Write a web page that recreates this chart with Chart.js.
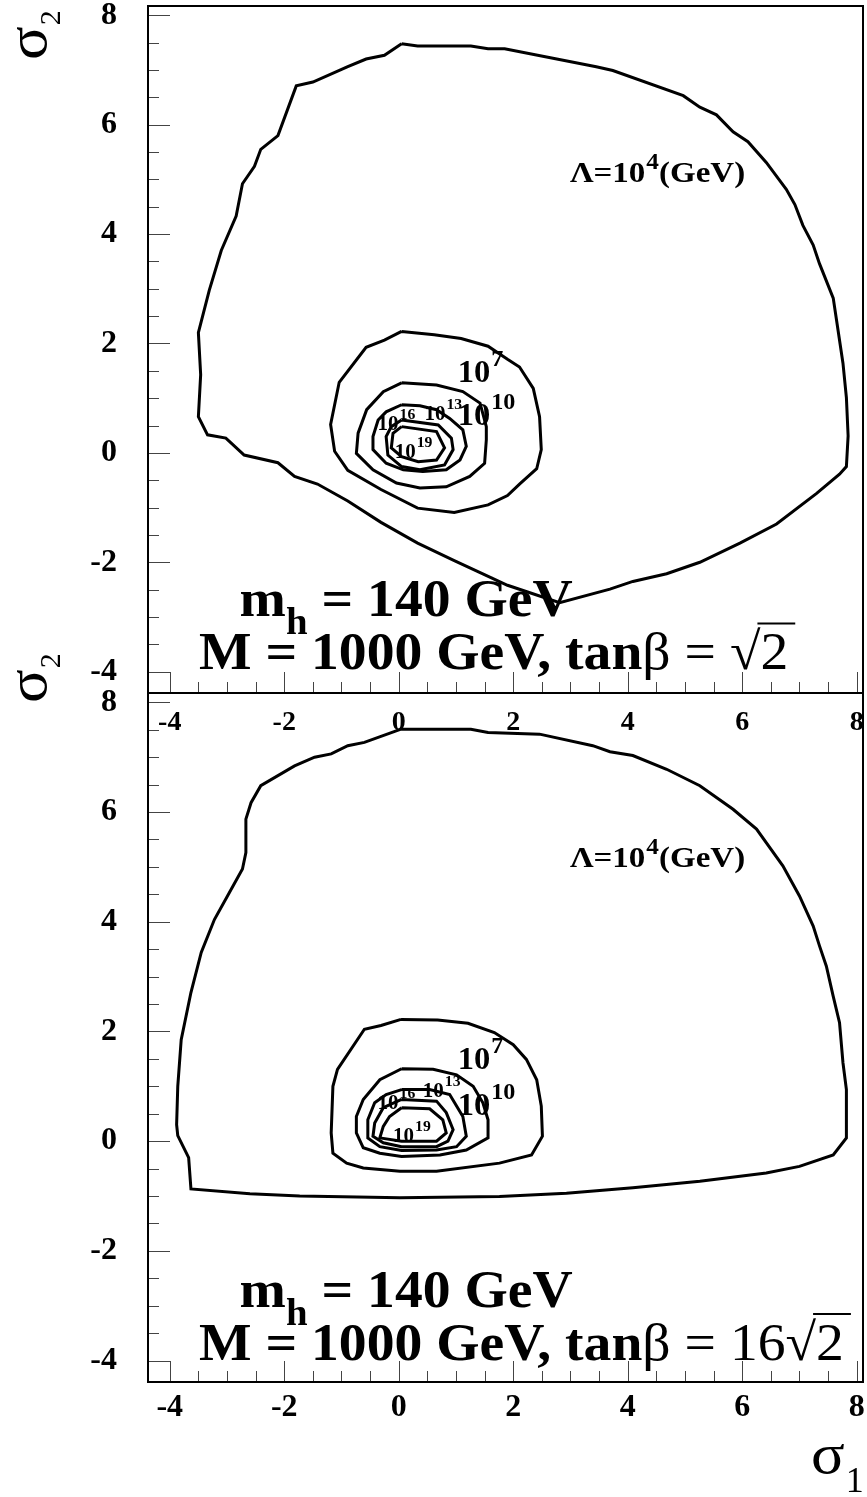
<!DOCTYPE html>
<html>
<head>
<meta charset="utf-8">
<script src="https://cdn.jsdelivr.net/npm/chart.js@4.4.1/dist/chart.umd.min.js"></script>
<style>
  html, body { margin: 0; padding: 0; background: #fff; }
  #wrap { position: relative; width: 867px; height: 1497px; }
  #wrap canvas { position: absolute; left: 0; top: 0; }
</style>
</head>
<body>
<div id="wrap">
  <canvas id="topPanel" width="867" height="1497"></canvas>
  <canvas id="bottomPanel" width="867" height="1497"></canvas>
</div>
<script>
// axis ranges and tick labels (same for both panels)
const X_MIN = -4.38, X_MAX = 8.11;
const Y_MIN = -4.39, Y_MAX = 8.17;
const xTicks = [-4, -2, 0, 2, 4, 6, 8];
const yTicks = [-4, -2, 0, 2, 4, 6, 8];

// top panel, tan(beta) = sqrt(2): contour lines [sigma1, sigma2]
const topL4 = [[0.05,7.48],[0.33,7.44],[1.26,7.44],[1.56,7.39],[1.85,7.39],[3.45,7.06],[3.74,6.99],[4.97,6.53],[5.26,6.32],[5.55,6.18],[5.84,5.87],[6.10,5.69],[6.42,5.31],[6.77,4.82],[6.92,4.54],[7.06,4.16],[7.24,3.80],[7.35,3.46],[7.59,2.83],[7.65,2.41],[7.76,1.64],[7.82,1.01],[7.85,0.31],[7.82,-0.25],[7.70,-0.39],[7.30,-0.74],[6.60,-1.30],[5.96,-1.65],[5.26,-2.00],[4.68,-2.21],[4.09,-2.35],[3.69,-2.49],[2.81,-2.74],[1.90,-2.42],[1.61,-2.28],[0.97,-1.97],[0.33,-1.65],[-0.31,-1.27],[-0.89,-0.88],[-1.42,-0.57],[-1.82,-0.43],[-2.11,-0.18],[-2.70,-0.04],[-3.02,0.27],[-3.34,0.33],[-3.50,0.66],[-3.46,1.43],[-3.50,2.20],[-3.31,2.97],[-3.10,3.70],[-2.84,4.33],[-2.73,4.92],[-2.52,5.24],[-2.41,5.55],[-2.11,5.80],[-1.79,6.71],[-1.50,6.78],[-0.89,7.06],[-0.57,7.20],[-0.25,7.27],[0.05,7.48]];
const topL7 = [[0.05,2.22],[0.62,2.16],[1.09,2.09],[1.56,1.95],[1.90,1.71],[2.11,1.57],[2.35,1.18],[2.46,0.66],[2.49,0.06],[2.41,-0.29],[2.11,-0.57],[1.90,-0.78],[1.56,-0.95],[0.97,-1.09],[0.33,-1.01],[-0.31,-0.67],[-0.89,-0.32],[-1.12,0.03],[-1.19,0.52],[-1.04,1.29],[-0.57,1.93],[-0.25,2.06],[0.05,2.22]];
const topL10 = [[0.05,1.28],[0.66,1.24],[1.12,1.12],[1.42,0.91],[1.53,0.48],[1.53,0.24],[1.50,-0.19],[1.24,-0.43],[0.83,-0.62],[0.37,-0.64],[-0.04,-0.55],[-0.45,-0.31],[-0.74,-0.01],[-0.71,0.36],[-0.56,0.79],[-0.27,1.12],[0.05,1.28]];
const topL13 = [[0.05,0.88],[0.37,0.86],[0.66,0.79],[0.89,0.63],[1.12,0.42],[1.18,0.12],[1.07,-0.13],[0.83,-0.31],[0.42,-0.34],[0.08,-0.31],[-0.22,-0.19],[-0.45,0.06],[-0.45,0.30],[-0.36,0.60],[-0.22,0.75],[0.05,0.88]];
const topL16 = [[0.05,0.60],[0.69,0.51],[0.92,0.27],[0.95,0.06],[0.80,-0.22],[0.37,-0.31],[0.05,-0.25],[-0.19,-0.04],[-0.22,0.30],[-0.13,0.48],[0.05,0.60]];
const topL19 = [[0.05,0.48],[0.66,0.39],[0.80,0.09],[0.66,-0.13],[0.34,-0.16],[0.05,-0.07],[-0.13,0.09],[-0.10,0.36],[0.05,0.48]];

// bottom panel, tan(beta) = 16 sqrt(2)
const botL4 = [[0.04,7.51],[1.26,7.51],[1.56,7.45],[2.46,7.42],[3.39,7.21],[3.69,7.10],[4.09,7.03],[4.68,6.78],[5.26,6.48],[5.84,6.05],[6.25,5.69],[6.71,5.02],[7.00,4.47],[7.24,3.92],[7.35,3.56],[7.47,3.19],[7.59,2.64],[7.70,2.16],[7.76,1.43],[7.82,0.94],[7.82,0.06],[7.59,-0.25],[7.00,-0.46],[6.42,-0.58],[5.26,-0.73],[4.09,-0.85],[2.93,-0.95],[1.76,-1.01],[0.02,-1.03],[-1.73,-1.00],[-2.60,-0.96],[-3.63,-0.87],[-3.67,-0.30],[-3.86,0.10],[-3.88,0.30],[-3.86,1.00],[-3.80,1.85],[-3.63,2.71],[-3.45,3.44],[-3.22,4.04],[-2.96,4.53],[-2.73,4.96],[-2.67,5.26],[-2.67,5.87],[-2.58,6.17],[-2.41,6.48],[-1.82,6.84],[-1.47,7.00],[-1.18,7.06],[-0.89,7.21],[-0.60,7.27],[0.04,7.51]];
const botL7 = [[0.04,2.22],[0.68,2.21],[1.21,2.15],[1.67,1.98],[2.00,1.76],[2.23,1.49],[2.41,1.12],[2.49,0.64],[2.51,0.09],[2.32,-0.25],[1.76,-0.40],[0.66,-0.55],[0.02,-0.55],[-0.62,-0.49],[-0.91,-0.40],[-1.15,-0.22],[-1.18,0.15],[-1.15,1.00],[-1.07,1.31],[-0.60,2.04],[-0.31,2.11],[0.04,2.22]];
const botL10 = [[0.05,1.32],[0.60,1.31],[1.01,1.21],[1.30,1.00],[1.47,0.70],[1.56,0.39],[1.56,0.06],[1.18,-0.16],[0.72,-0.25],[0.05,-0.28],[-0.33,-0.22],[-0.62,-0.12],[-0.74,0.15],[-0.74,0.45],[-0.62,0.76],[-0.33,1.12],[0.05,1.32]];
const botL13 = [[0.05,0.94],[0.54,0.94],[0.89,0.85],[1.12,0.45],[1.18,0.09],[1.01,-0.10],[0.66,-0.16],[0.05,-0.17],[-0.33,-0.10],[-0.54,0.06],[-0.54,0.39],[-0.42,0.70],[-0.22,0.85],[0.05,0.94]];
const botL16 = [[0.05,0.76],[0.66,0.73],[0.83,0.52],[0.95,0.21],[0.86,0.00],[0.66,-0.10],[0.05,-0.10],[-0.27,-0.03],[-0.45,0.09],[-0.42,0.33],[-0.27,0.61],[0.05,0.76]];
const botL19 = [[0.05,0.61],[0.54,0.59],[0.77,0.39],[0.83,0.15],[0.66,0.00],[0.05,0.00],[-0.33,0.06],[-0.27,0.27],[-0.16,0.45],[0.05,0.61]];

// contour level labels: exponent and where the "10" sits (data coords)
const levelExp = ['7', '10', '13', '16', '19'];
const topLabelPos = [[1.03,1.30],[1.03,0.51],[0.45,0.60],[-0.37,0.42],[-0.07,-0.09]];
const botLabelPos = [[1.03,1.31],[1.03,0.48],[0.42,0.81],[-0.37,0.58],[-0.10,-0.01]];

const SERIF = '"Liberation Serif", "Times New Roman", serif';

// text drawn a bit wider than the font, like the original output
function put(ctx, font, text, x, y, sx) {
  ctx.font = font;
  ctx.save();
  ctx.translate(x, y);
  ctx.scale(sx, 1);
  ctx.fillText(text, 0, 0);
  ctx.restore();
  return ctx.measureText(text).width * sx;
}

function drawPower(ctx, px, py, exp, size, supSize, raise) {
  const w = put(ctx, 'bold ' + size + 'px ' + SERIF, '10', px, py, 1.05);
  put(ctx, 'bold ' + supSize + 'px ' + SERIF, exp, px + w + 1, py - raise, 1.05);
}

// inward ROOT-style ticks plus the frame
const frameTicks = {
  id: 'frameTicks',
  afterDatasetsDraw(chart) {
    const { ctx, chartArea: a, scales: { x, y } } = chart;
    ctx.save();
    ctx.strokeStyle = '#444';
    ctx.lineWidth = 1;
    ctx.beginPath();
    for (let v = -4; v <= 8.001; v += 0.5) {
      const major = Math.abs(v % 2) < 1e-6;
      const yp = Math.round(y.getPixelForValue(v)) + 0.5;
      ctx.moveTo(a.left, yp); ctx.lineTo(a.left + (major ? 22 : 11), yp);
      const xp = Math.round(x.getPixelForValue(v)) + 0.5;
      ctx.moveTo(xp, a.bottom); ctx.lineTo(xp, a.bottom - (major ? 21 : 11));
    }
    ctx.stroke();
    ctx.strokeStyle = '#000';
    ctx.lineWidth = 2;
    ctx.strokeRect(a.left, a.top, a.right - a.left, a.bottom - a.top);
    ctx.restore();
  }
};

// panel texts
function textPlugin(labelPos, lambdaPos, mhPos, mPos, coef, titles) {
  return {
    id: 'panelText',
    afterDraw(chart) {
      const { ctx, scales: { x, y } } = chart;
      ctx.save();
      ctx.fillStyle = '#000';
      ctx.strokeStyle = '#000';
      ctx.textAlign = 'left';
      ctx.textBaseline = 'alphabetic';

      labelPos.forEach((p, i) => {
        const big = i < 2;
        drawPower(ctx, x.getPixelForValue(p[0]), y.getPixelForValue(p[1]), levelExp[i],
          big ? 31 : 20, big ? 23 : 15, big ? 16 : 11);
      });

      // Lambda = 10^4 (GeV)
      let lx = x.getPixelForValue(lambdaPos[0]);
      const ly = y.getPixelForValue(lambdaPos[1]);
      lx += put(ctx, 'bold 30px ' + SERIF, 'Λ=10', lx, ly, 1.1) + 1;
      lx += put(ctx, 'bold 23px ' + SERIF, '4', lx, ly - 13, 1.1);
      put(ctx, 'bold 30px ' + SERIF, '(GeV)', lx, ly, 1.1);

      // m_h = 140 GeV
      const S = 1.05;
      let mx = x.getPixelForValue(mhPos[0]);
      const my = y.getPixelForValue(mhPos[1]);
      mx += put(ctx, 'bold 53px ' + SERIF, 'm', mx, my, S);
      mx += put(ctx, 'bold 37px ' + SERIF, 'h', mx, my + 18, S);
      put(ctx, 'bold 53px ' + SERIF, ' = 140 GeV', mx, my, S);

      // M = 1000 GeV, tan beta = ...
      let tx = x.getPixelForValue(mPos[0]);
      const ty = y.getPixelForValue(mPos[1]);
      tx += put(ctx, 'bold 53px ' + SERIF, 'M = 1000 GeV, tan', tx, ty, S);
      tx += put(ctx, '53px ' + SERIF, 'β = ' + coef, tx, ty, S);
      const sw = put(ctx, '53px ' + SERIF, '√', tx, ty, S);
      const tw = put(ctx, '53px ' + SERIF, '2', tx + sw, ty, S);
      ctx.lineWidth = 2;
      ctx.beginPath();
      ctx.moveTo(tx + sw - 3, ty - 46);
      ctx.lineTo(tx + sw + tw + 7, ty - 46);
      ctx.stroke();

      // axis titles
      titles.forEach(t => {
        ctx.save();
        ctx.translate(t.x, t.y);
        if (t.rot) ctx.rotate(-Math.PI / 2);
        const w = put(ctx, '58px ' + SERIF, 'σ', 0, 0, 1.08);
        put(ctx, t.subSize + 'px ' + SERIF, t.sub, w + 1, t.subDrop, 1);
        ctx.restore();
      });
      ctx.restore();
    }
  };
}

function panel(id, lines, padding, xFont, xPad, texts) {
  return new Chart(document.getElementById(id), {
    type: 'scatter',
    data: {
      datasets: lines.map(l => ({
        data: l.map(p => ({ x: p[0], y: p[1] })),
        showLine: true,
        borderColor: '#000',
        borderWidth: 3,
        pointRadius: 0,
        tension: 0,
        fill: false
      }))
    },
    options: {
      responsive: false,
      animation: false,
      devicePixelRatio: 1,
      layout: { padding: padding },
      plugins: { legend: { display: false }, tooltip: { enabled: false } },
      scales: {
        x: {
          type: 'linear', min: X_MIN, max: X_MAX,
          grid: { display: false, drawTicks: false },
          border: { display: false },
          afterBuildTicks: s => { s.ticks = xTicks.map(v => ({ value: v })); },
          afterFit: s => { s.height = 60; s.paddingLeft = 0; s.paddingRight = 0; },
          ticks: {
            color: '#000', padding: xPad, maxRotation: 0, autoSkip: false,
            font: { family: SERIF, weight: 'bold', size: xFont },
            callback: v => String(v)
          }
        },
        y: {
          type: 'linear', min: Y_MIN, max: Y_MAX,
          grid: { display: false, drawTicks: false },
          border: { display: false },
          afterBuildTicks: s => { s.ticks = yTicks.map(v => ({ value: v })); },
          afterFit: s => { s.width = 148; s.paddingTop = 0; s.paddingBottom = 0; },
          ticks: {
            color: '#000', padding: 31, autoSkip: false,
            font: { family: SERIF, weight: 'bold', size: 32 },
            callback: v => String(v)
          }
        }
      }
    },
    plugins: [frameTicks, texts]
  });
}

panel('topPanel', [topL4, topL7, topL10, topL13, topL16, topL19],
  { top: 6, right: 4, bottom: 744, left: 0 }, 28, 13,
  textPlugin(topLabelPos, [2.99, 4.95], [-2.78, -2.99], [-3.49, -3.96], '',
    [{ x: 46, y: 60, rot: true, sub: '2', subSize: 30, subDrop: 14 }]));

panel('bottomPanel', [botL4, botL7, botL10, botL13, botL16, botL19],
  { top: 693, right: 4, bottom: 55, left: 0 }, 32, 7,
  textPlugin(botLabelPos, [2.99, 4.99], [-2.78, -3.02], [-3.49, -3.99], '16',
    [{ x: 46, y: 703, rot: true, sub: '2', subSize: 30, subDrop: 14 },
     { x: 811, y: 1473, rot: false, sub: '1', subSize: 36, subDrop: 19 }]));
</script>
</body>
</html>
